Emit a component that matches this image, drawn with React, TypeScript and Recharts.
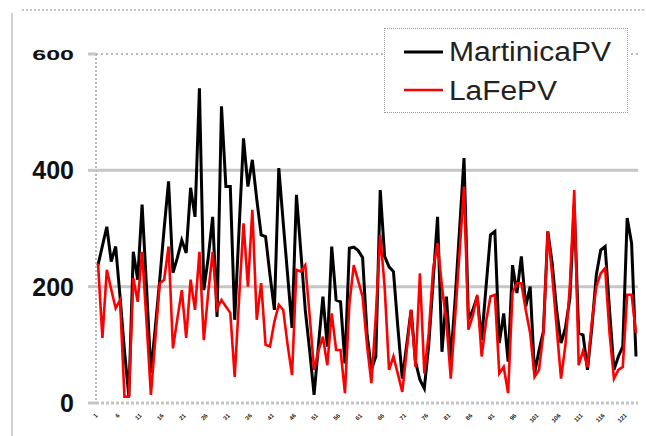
import React from 'react';
import { LineChart, Line, XAxis, YAxis, ReferenceLine } from 'recharts';

// weekly samples, labels are only tiny marks in the source
const weeks = Array.from({ length: 123 }, (_, i) => String(i + 1));

const martinicaPV = [
  237, 270, 303, 243, 269, 183, 90, 11, 260, 212, 341, 200, 52, 130, 212, 300, 381, 224, 250, 280,
  258, 370, 320, 541, 194, 250, 320, 148, 510, 372, 372, 143, 300, 455, 372, 418, 350, 289, 286, 220,
  160, 404, 310, 220, 129, 358, 260, 160, 90, 14, 100, 183, 97, 269, 177, 174, 68, 266, 268, 262,
  250, 120, 57, 80, 366, 252, 234, 226, 130, 42, 100, 160, 71, 40, 25, 100, 210, 320, 88, 183,
  74, 180, 300, 421, 143, 160, 183, 108, 200, 289, 295, 103, 154, 71, 237, 189, 252, 166, 200, 51,
  90, 123, 295, 240, 160, 103, 129, 180, 340, 120, 117, 57, 130, 220, 263, 269, 160, 57, 80, 97,
  318, 275, 80,
];

const laFePV = [
  240, 112, 229, 195, 163, 177, 11, 11, 215, 174, 260, 140, 14, 110, 206, 212, 269, 94, 145, 194,
  112, 212, 160, 260, 108, 190, 260, 163, 177, 166, 155, 45, 180, 309, 200, 332, 143, 206, 100, 97,
  140, 169, 160, 100, 48, 229, 226, 237, 150, 57, 90, 114, 65, 154, 91, 91, 17, 170, 237, 210,
  183, 100, 34, 150, 289, 200, 57, 80, 50, 19, 90, 160, 62, 223, 51, 120, 230, 275, 200, 140,
  42, 150, 260, 372, 126, 150, 186, 80, 140, 183, 186, 51, 62, 17, 190, 206, 206, 160, 120, 45,
  57, 120, 295, 220, 130, 42, 100, 200, 366, 65, 90, 62, 140, 200, 223, 232, 120, 42, 57, 62,
  186, 186, 120,
];

const yTicks = [0, 200, 400, 600];
const gridValues = [200, 400];

const data = weeks.map((w, i) => ({ week: w, MartinicaPV: martinicaPV[i], LaFePV: laFePV[i] }));

const FONT = '"Liberation Sans", Arial, sans-serif';

const YTick = (props: any) => {
  const { x, y, payload } = props;
  const squash = payload.value === 600;
  return (
    <text
      x={x}
      y={y}
      dy={9}
      textAnchor="end"
      fontFamily={FONT}
      fontWeight="bold"
      fontSize={25}
      fill="#111"
      transform={squash ? `translate(0 ${y}) scale(1 0.62) translate(0 ${-y})` : undefined}
    >
      {payload.value}
    </text>
  );
};

const XTick = (props: any) => {
  const { x, y, payload } = props;
  return (
    <text
      x={x}
      y={y}
      textAnchor="end"
      fontFamily={FONT}
      fontSize={6}
      fontWeight="bold"
      fill="#222"
      transform={`rotate(-45 ${x} ${y})`}
    >
      {payload.value}
    </text>
  );
};

export default function App() {
  return (
    <div style={{ position: 'absolute', left: 0, top: 0, width: 646, height: 436, background: '#fff' }}>
      <svg width={646} height={436} style={{ position: 'absolute', left: 0, top: 0 }}>
        <line x1={22} y1={10} x2={646} y2={10} stroke="#c4c4c4" strokeWidth={2} strokeDasharray="2 2" />
        <line x1={12} y1={13} x2={12} y2={436} stroke="#d0d0d0" strokeWidth={2} />
      </svg>
      <div style={{ position: 'absolute', left: 0, top: 0 }}>
        <LineChart width={646} height={436} data={data} margin={{ top: 54, right: 8, left: 0, bottom: 0 }}>
          {gridValues.map((v) => (
            <ReferenceLine key={v} y={v} stroke="#c6c6c6" strokeWidth={3} />
          ))}
          <ReferenceLine y={600} stroke="#b8b8b8" strokeWidth={2} strokeDasharray="2 3" />
          <XAxis
            dataKey="week"
            interval={4}
            height={33}
            tickSize={0}
            tickMargin={13}
            tick={<XTick />}
            axisLine={{ stroke: '#c4c4c4', strokeWidth: 3, strokeDasharray: '3 2' }}
            padding={{ left: 2, right: 2 }}
          />
          <YAxis
            width={96}
            domain={[0, 600]}
            ticks={yTicks}
            tickSize={8}
            tickMargin={14}
            tick={<YTick />}
            tickLine={{ stroke: '#c6c6c6', strokeWidth: 3 }}
            axisLine={{ stroke: '#b8b8b8', strokeWidth: 2, strokeDasharray: '2 2' }}
          />
          <Line
            type="linear"
            dataKey="MartinicaPV"
            stroke="#000"
            strokeWidth={3}
            dot={false}
            isAnimationActive={false}
          />
          <Line
            type="linear"
            dataKey="LaFePV"
            stroke="#ff0000"
            strokeWidth={2.6}
            dot={false}
            isAnimationActive={false}
          />
        </LineChart>
      </div>
      <div
        style={{
          position: 'absolute',
          left: 384,
          top: 28,
          width: 242,
          height: 83,
          border: '1px dotted #9a9a9a',
          background: '#fff',
        }}
      >
        <svg width={242} height={83}>
          <line x1={19} y1={23} x2={58} y2={23} stroke="#000" strokeWidth={3} />
          <text x={64} y={32} fontFamily={FONT} fontSize={27} fill="#222" textLength={162} lengthAdjust="spacingAndGlyphs">
            MartinicaPV
          </text>
          <line x1={19} y1={61} x2={58} y2={61} stroke="#ff0000" strokeWidth={2.5} />
          <text x={64} y={71} fontFamily={FONT} fontSize={27} fill="#222" textLength={108} lengthAdjust="spacingAndGlyphs">
            LaFePV
          </text>
        </svg>
      </div>
    </div>
  );
}
